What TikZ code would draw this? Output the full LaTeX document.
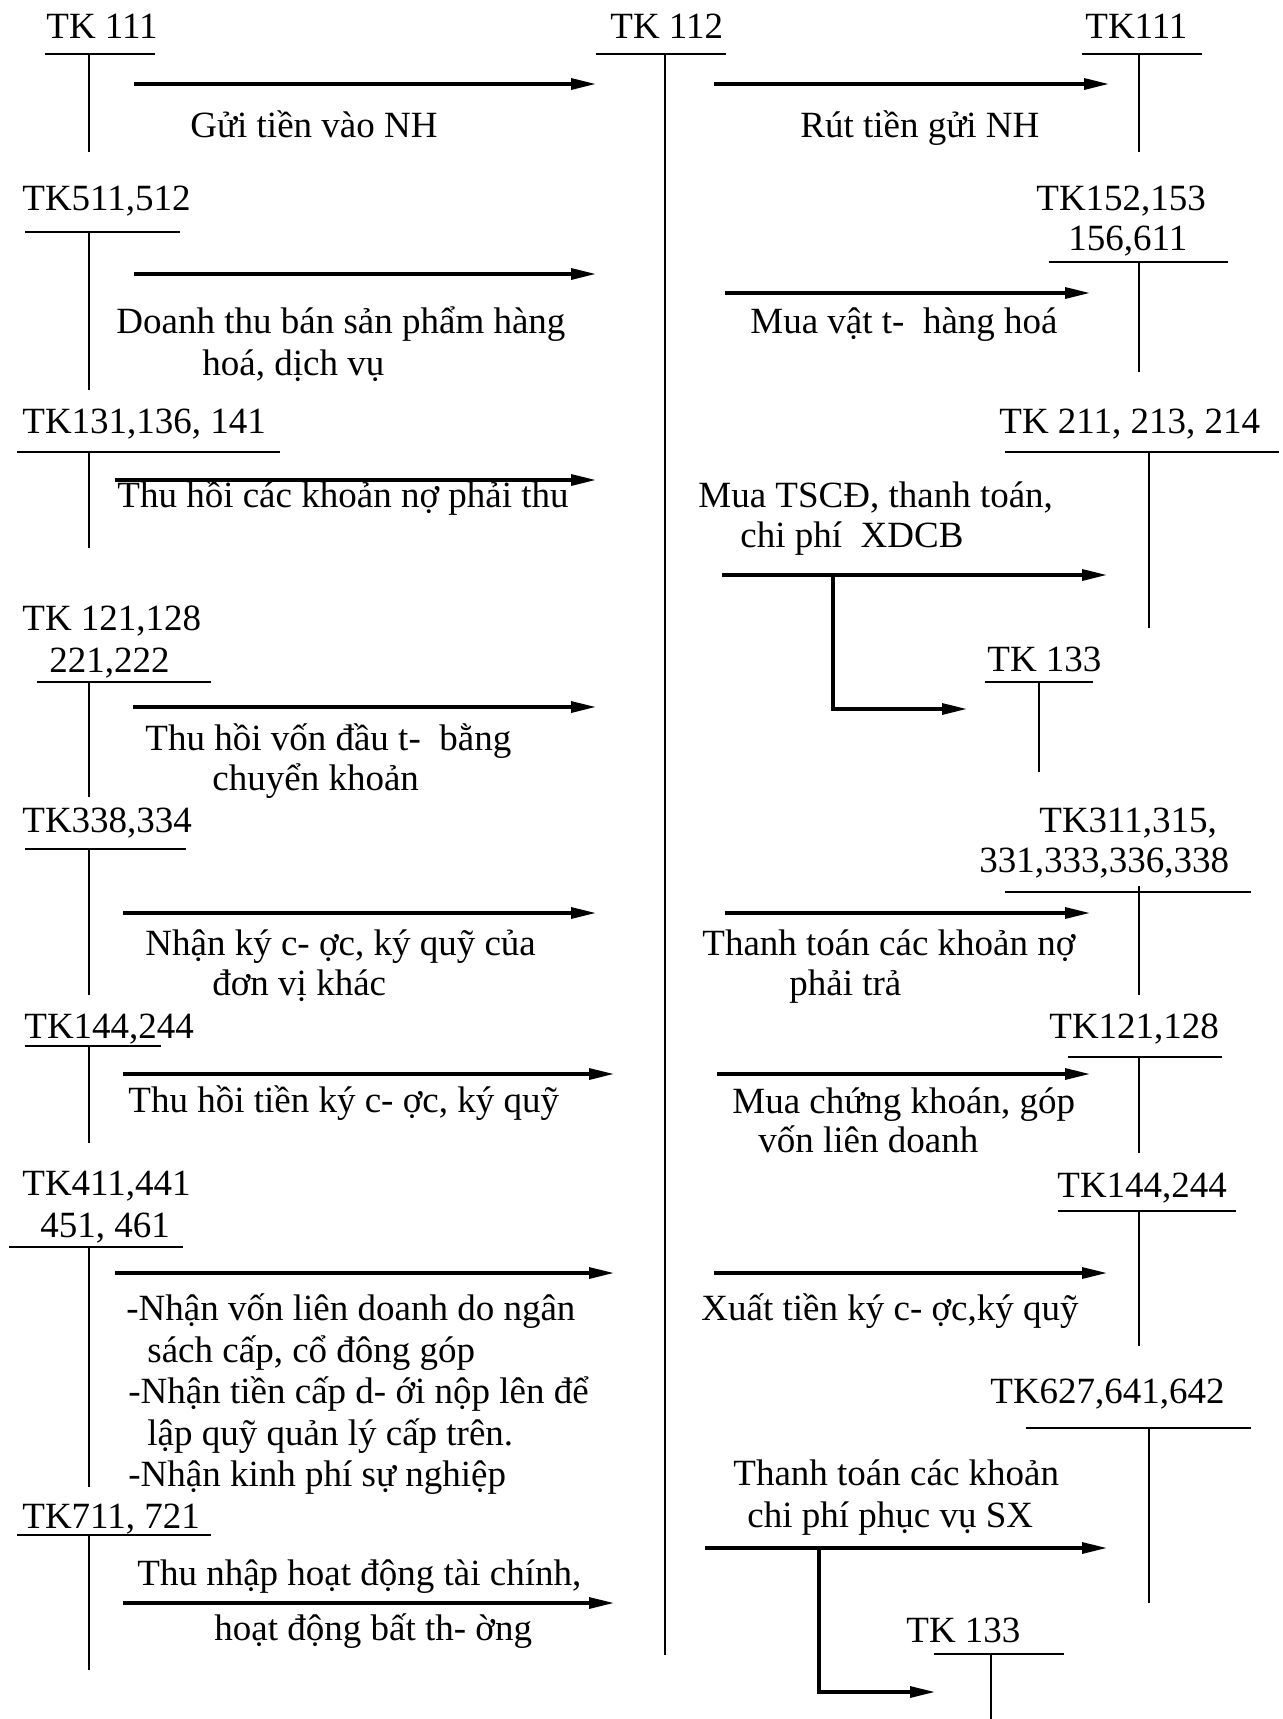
\documentclass[tikz,border=0pt]{standalone}
\usepackage{fontspec}
\setmainfont{Liberation Serif}
\usetikzlibrary{arrows.meta}
\newcommand{\tacc}[6]{% name, xLeft, xRight, yRule, xVertical, yBottom
  \coordinate (#1-l) at (#2,#4);
  \coordinate (#1-r) at (#3,#4);
  \coordinate (#1-t) at (#5,#4);
  \coordinate (#1-b) at (#5,#6);
  \draw[tline] (#1-l) -- (#1-r) (#1-t) -- (#1-b);}
\newcommand{\flowarr}[4]{% name, xStart, xEnd, y
  \coordinate (#1-s) at (#2,#4);
  \coordinate (#1-e) at (#3,#4);
  \draw[flow] (#1-s) -- (#1-e);}
\begin{document}
\begin{tikzpicture}[x=0.5pt,y=-0.5pt,
  tline/.style={line width=1.1pt},
  flow/.style={line width=1.6pt,-{Triangle[length=12.5pt,width=5.5pt]}},
  lbl/.style={anchor=base west,inner sep=0pt,font=\fontsize{18.5}{22}\selectfont}]
\useasboundingbox (0,0) rectangle (1283,1719);
\fill[white] (0,0) rectangle (1283,1719);

% ---------- central account TK 112 ----------
\node[lbl] (c112) at (610,38) {TK 112};
\tacc{a112}{596}{726}{54}{665}{1655}

% ---------- left column ----------
\node[lbl] (l111) at (46,38) {TK 111};
\tacc{al111}{45}{155}{54}{89}{152}
\flowarr{f1}{134}{596}{84}
\node[lbl] (x1) at (190,137) {Gửi tiền vào NH};

\node[lbl] (l511) at (22,210) {TK511,512};
\tacc{al511}{25}{180}{232}{89}{390}
\flowarr{f2}{134}{596}{274}
\node[lbl] (x2a) at (116,333) {Doanh thu bán sản phẩm hàng};
\node[lbl] (x2b) at (202,375) {hoá, dịch vụ};

\node[lbl] (l131) at (22,433) {TK131,136, 141};
\tacc{al131}{17}{280}{452}{89}{548}
\flowarr{f3}{115}{596}{480}
\node[lbl] (x3) at (117,507) {Thu hồi các khoản nợ phải thu};

\node[lbl] (l121a) at (22,630) {TK 121,128};
\node[lbl] (l121b) at (49,672) {221,222};
\tacc{al121}{37}{211}{682}{89}{797}
\flowarr{f4}{133}{596}{707}
\node[lbl] (x4a) at (145,750) {Thu hồi vốn đầu t-\ \ bằng};
\node[lbl] (x4b) at (212,790) {chuyển khoản};

\node[lbl] (l338) at (22,832) {TK338,334};
\tacc{al338}{25}{186}{849}{89}{995}
\flowarr{f5}{123}{596}{913}
\node[lbl] (x5a) at (145,955) {Nhận ký c- ợc, ký quỹ của};
\node[lbl] (x5b) at (212,995) {đơn vị khác};

\node[lbl] (l144) at (24,1038) {TK144,244};
\tacc{al144}{25}{161}{1046}{89}{1143}
\flowarr{f6}{123}{614}{1074}
\node[lbl] (x6) at (128,1112) {Thu hồi tiền ký c- ợc, ký quỹ};

\node[lbl] (l411a) at (22,1195) {TK411,441};
\node[lbl] (l411b) at (40,1237) {451, 461};
\tacc{al411}{9}{183}{1247}{89}{1487}
\flowarr{f7}{115}{614}{1273}
\node[lbl] (x7a) at (126,1320) {-Nhận vốn liên doanh do ngân};
\node[lbl] (x7b) at (147,1362) {sách cấp, cổ đông góp};
\node[lbl] (x7c) at (128,1403) {-Nhận tiền cấp d- ới nộp lên để};
\node[lbl] (x7d) at (147,1445) {lập quỹ quản lý cấp trên.};
\node[lbl] (x7e) at (128,1486) {-Nhận kinh phí sự nghiệp};

\node[lbl] (l711) at (22,1528) {TK711, 721};
\tacc{al711}{17}{211}{1535}{89}{1670}
\node[lbl] (x8a) at (137,1585) {Thu nhập hoạt động tài chính,};
\flowarr{f8}{123}{614}{1603}
\node[lbl] (x8b) at (214,1640) {hoạt động bất th- ờng};

% ---------- right column ----------
\node[lbl] (r111) at (1085,38) {TK111};
\tacc{ar111}{1082}{1202}{54}{1139}{152}
\flowarr{g1}{714}{1109}{84}
\node[lbl] (y1) at (800,137) {Rút tiền gửi NH};

\node[lbl] (r152a) at (1036,210) {TK152,153};
\node[lbl] (r152b) at (1068,250) {156,611};
\tacc{ar152}{1049}{1228}{262}{1139}{372}
\flowarr{g2}{725}{1090}{293}
\node[lbl] (y2) at (750,333) {Mua vật t-\ \ hàng hoá};

\node[lbl] (r211) at (999,433) {TK 211, 213, 214};
\tacc{ar211}{1005}{1279}{452}{1149}{628}
\node[lbl] (y3a) at (698,507) {Mua TSCĐ, thanh toán,};
\node[lbl] (y3b) at (740,547) {chi phí\ \ XDCB};
\flowarr{g3}{722}{1107}{575}
\coordinate (g3-k) at (833,575);
\coordinate (g3-t) at (967,709);
\draw[flow] (g3-k) |- (g3-t);

\node[lbl] (r133a) at (987,671) {TK 133};
\tacc{ar133a}{985}{1093}{682}{1039}{772}

\node[lbl] (r311a) at (1039,832) {TK311,315,};
\node[lbl] (r311b) at (979,872) {331,333,336,338};
\tacc{ar311}{1005}{1251}{892}{1139}{995}
\coordinate (ar311-u) at (1139,886);
\draw[tline] (ar311-u) -- (ar311-t);
\flowarr{g4}{725}{1090}{913}
\node[lbl] (y4a) at (702,955) {Thanh toán các khoản nợ};
\node[lbl] (y4b) at (789,995) {phải trả};

\node[lbl] (r121) at (1049,1038) {TK121,128};
\tacc{ar121}{1068}{1222}{1057}{1139}{1153}
\flowarr{g5}{717}{1090}{1074}
\node[lbl] (y5a) at (732,1113) {Mua chứng khoán, góp};
\node[lbl] (y5b) at (758,1152) {vốn liên doanh};

\node[lbl] (r144) at (1057,1197) {TK144,244};
\tacc{ar144}{1058}{1236}{1211}{1139}{1346}
\flowarr{g6}{714}{1107}{1273}
\node[lbl] (y6) at (701,1320) {Xuất tiền ký c- ợc,ký quỹ};

\node[lbl] (r627) at (990,1403) {TK627,641,642};
\tacc{ar627}{1026}{1251}{1428}{1149}{1603}
\node[lbl] (y7a) at (733,1485) {Thanh toán các khoản};
\node[lbl] (y7b) at (747,1527) {chi phí phục vụ SX};
\flowarr{g7}{705}{1107}{1548}
\coordinate (g7-k) at (819,1548);
\coordinate (g7-t) at (935,1692);
\draw[flow] (g7-k) |- (g7-t);

\node[lbl] (r133b) at (906,1642) {TK 133};
\tacc{ar133b}{934}{1064}{1654}{991}{1719}
\end{tikzpicture}
\end{document}
